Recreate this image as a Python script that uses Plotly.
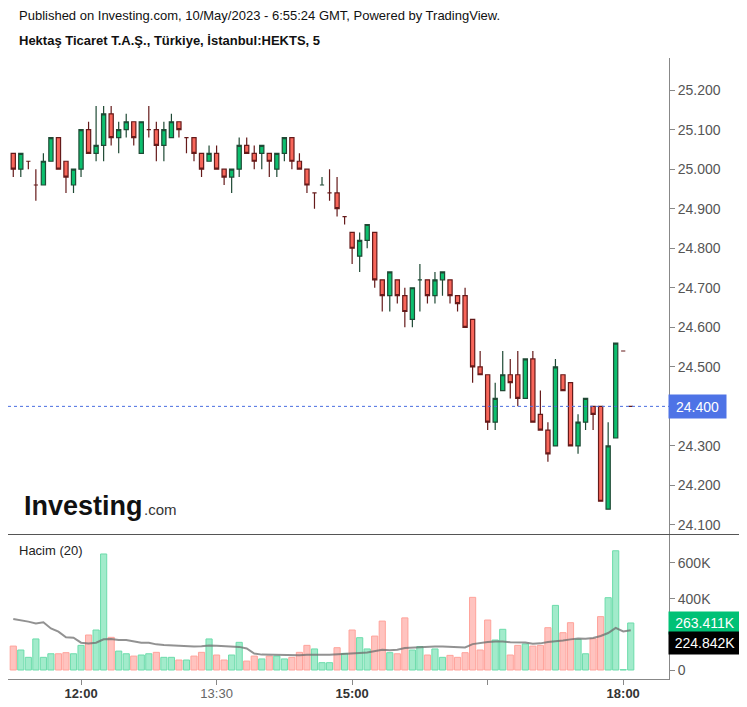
import pandas as pd
import plotly.graph_objects as go

# ---------------- data ----------------
start_time = "2023-05-10 11:15"
n_bars = 83
times = pd.date_range(start_time, periods=n_bars, freq="5min")

open_ = [25.04, 25.00, 25.02, 24.96, 24.96, 25.02, 25.08, 25.02, 24.96, 25.00,
         25.10, 25.04, 25.06, 25.14, 25.08, 25.10, 25.12, 25.04, 25.10, 25.10,
         25.06, 25.08, 25.12, 25.08, 25.08, 25.04, 25.02, 25.04, 25.00, 24.98,
         25.00, 25.06, 25.04, 25.04, 25.04, 25.00, 25.04, 25.08, 25.02, 25.00,
         24.94, 24.96, 24.94, 24.94, 24.88, 24.84, 24.78, 24.82, 24.84, 24.72,
         24.68, 24.72, 24.68, 24.62, 24.72, 24.72, 24.68, 24.72, 24.72, 24.68,
         24.68, 24.62, 24.50, 24.48, 24.36, 24.44, 24.48, 24.48, 24.42, 24.52,
         24.38, 24.34, 24.30, 24.48, 24.46, 24.30, 24.36, 24.40, 24.40, 24.14,
         24.32, 24.54, 24.40]
high = [25.04, 25.04, 25.02, 25.00, 25.04, 25.08, 25.08, 25.02, 25.00, 25.10,
        25.12, 25.16, 25.16, 25.16, 25.12, 25.14, 25.12, 25.12, 25.16, 25.12,
        25.12, 25.14, 25.12, 25.08, 25.08, 25.04, 25.06, 25.06, 25.00, 25.00,
        25.08, 25.08, 25.06, 25.06, 25.04, 25.04, 25.08, 25.08, 25.04, 25.00,
        24.94, 24.98, 25.00, 24.98, 24.88, 24.84, 24.84, 24.86, 24.84, 24.72,
        24.74, 24.72, 24.70, 24.70, 24.76, 24.72, 24.74, 24.74, 24.72, 24.68,
        24.70, 24.62, 24.54, 24.48, 24.46, 24.54, 24.52, 24.54, 24.52, 24.54,
        24.44, 24.36, 24.52, 24.48, 24.46, 24.38, 24.42, 24.40, 24.40, 24.36,
        24.56, 24.54, 24.40]
low = [24.98, 24.98, 25.00, 24.92, 24.96, 25.02, 25.00, 24.94, 24.94, 24.98,
       25.04, 25.02, 25.02, 25.06, 25.04, 25.08, 25.06, 25.04, 25.08, 25.02,
       25.02, 25.08, 25.08, 25.04, 25.02, 24.98, 25.02, 25.00, 24.96, 24.94,
       24.98, 25.04, 25.00, 25.00, 24.98, 24.98, 25.02, 25.00, 25.00, 24.94,
       24.90, 24.96, 24.92, 24.88, 24.86, 24.76, 24.74, 24.80, 24.70, 24.64,
       24.64, 24.66, 24.60, 24.60, 24.64, 24.66, 24.66, 24.68, 24.66, 24.64,
       24.60, 24.46, 24.48, 24.34, 24.34, 24.44, 24.42, 24.40, 24.42, 24.36,
       24.34, 24.26, 24.30, 24.44, 24.30, 24.28, 24.34, 24.34, 24.16, 24.14,
       24.32, 24.54, 24.40]
close = [25.00, 25.04, 25.02, 24.96, 25.02, 25.08, 25.00, 24.98, 25.00, 25.10,
         25.04, 25.06, 25.14, 25.08, 25.10, 25.12, 25.08, 25.12, 25.10, 25.06,
         25.10, 25.12, 25.10, 25.08, 25.04, 25.00, 25.04, 25.00, 24.98, 25.00,
         25.06, 25.04, 25.02, 25.06, 25.02, 25.04, 25.08, 25.02, 25.00, 24.96,
         24.94, 24.96, 24.94, 24.90, 24.88, 24.80, 24.82, 24.86, 24.72, 24.68,
         24.74, 24.68, 24.64, 24.70, 24.72, 24.68, 24.72, 24.74, 24.68, 24.66,
         24.60, 24.50, 24.48, 24.36, 24.42, 24.48, 24.46, 24.42, 24.52, 24.36,
         24.34, 24.28, 24.50, 24.44, 24.30, 24.36, 24.42, 24.38, 24.16, 24.30,
         24.56, 24.54, 24.40]
volume_k = [134, 112, 71, 174, 71, 91, 91, 97, 91, 138,
            196, 224, 650, 183, 106, 91, 78, 84, 91, 99,
            71, 71, 56, 56, 78, 99, 174, 84, 56, 84,
            155, 50, 78, 62, 78, 78, 62, 71, 99, 138,
            118, 41, 41, 125, 93, 224, 181, 118, 190, 274,
            97, 91, 292, 112, 131, 84, 118, 71, 82, 71,
            97, 407, 112, 280, 168, 228, 84, 138, 146, 134,
            138, 237, 362, 209, 265, 172, 91, 175, 299, 405,
            668, 2, 263.411]
# volume MA(20) for the first bars (needs earlier, unseen bars)
ma_head_k = [286, 280, 271, 261, 267, 233, 215, 183, 181, 153,
             149, 153, 172, 174, 168, 168, 159, 153, 153]
ma_period = 20

last_price = 24.40
last_volume = 263411
last_ma = 224842

price_ticks = [24.1, 24.2, 24.3, 24.5, 24.6, 24.7, 24.8, 24.9, 25.0, 25.1, 25.2]
vol_ticks = [0, 400000, 600000]
vol_tick_text = ["0", "400K", "600K"]
time_ticks = ["2023-05-10 12:00", "2023-05-10 13:30", "2023-05-10 15:00",
              "2023-05-10 16:30", "2023-05-10 18:00"]
time_tick_text = ["<b>12:00</b>", "<span style='color:#666'>13:30</span>",
                  "<b>15:00</b>", "", "<b>18:00</b>"]

title1 = "Published on Investing.com, 10/May/2023 - 6:55:24 GMT, Powered by TradingView."
title2 = "Hektaş Ticaret T.A.Ş., Türkiye, İstanbul:HEKTS, 5"

# ---------------- derived ----------------
volume = [v * 1000 for v in volume_k]
vol_series = pd.Series(volume)
ma = vol_series.rolling(ma_period).mean().tolist()
for i, v in enumerate(ma_head_k):
    ma[i] = v * 1000

vol_colors = ["#a2ebcb" if c >= o else "#ffc3bf" for o, c in zip(open_, close)]
vol_lines = ["#6cdcab" if c >= o else "#ffa39b" for o, c in zip(open_, close)]

# ---------------- geometry (screen pixels; page body adds an 8px offset) ----------------
OFF = 8
W, H = 747 - OFF, 707 - OFF
PL, PR, PT, PB = 8, 669, 58, 679          # plot box in screen pixels
ML, MR, MT, MB = PL - OFF, W - (PR - OFF), PT - OFF, H - (PB - OFF)
PW = PR - PL
PH = PB - PT


def px(x):
    return (x - PL) / PW


def py(y):
    return (PB - y) / PH


step = pd.Timedelta(minutes=5)
x0 = times[0] + step * (-0.70)
x1 = times[0] + step * 87.08

FONT = "Liberation Sans, Arial, sans-serif"

fig = go.Figure()
fig.add_trace(go.Candlestick(
    x=times, open=open_, high=high, low=low, close=close,
    increasing=dict(fillcolor="#0cbf6e", line=dict(color="#1f4a35", width=1.2)),
    decreasing=dict(fillcolor="#f8665a", line=dict(color="#651a1a", width=1.2)),
    whiskerwidth=0, xaxis="x", yaxis="y", showlegend=False, hoverinfo="skip",
))
fig.add_trace(go.Bar(
    x=times, y=volume, marker=dict(color=vol_colors, line=dict(color=vol_lines, width=1)),
    xaxis="x", yaxis="y2", showlegend=False, hoverinfo="skip",
))
fig.add_trace(go.Scatter(
    x=times, y=ma, mode="lines", line=dict(color="rgba(110,110,110,0.75)", width=2),
    xaxis="x", yaxis="y2", showlegend=False, hoverinfo="skip",
))

price_top = 25.2 + (90 - PT) / 394
price_bot = 24.1 - (534 - 525) / 394
vol_top = (670 - 535) * 5602
vol_bot = -(PB - 670) * 5602

fig.update_layout(
    width=W, height=H,
    margin=dict(l=ML, r=MR, t=MT, b=MB),
    paper_bgcolor="white", plot_bgcolor="white",
    bargap=0.18, boxgap=0.2,
    font=dict(family=FONT, size=14, color="#555"),
    xaxis=dict(
        type="date", range=[x0, x1], domain=[0, 1], anchor="y2",
        rangeslider=dict(visible=False), showgrid=False, zeroline=False,
        showline=True, linecolor="#888", linewidth=1,
        ticks="outside", ticklen=5, tickcolor="#888",
        tickvals=time_ticks, ticktext=time_tick_text,
        ticklabelstandoff=-3,
        tickfont=dict(family=FONT, size=13, color="#333"),
    ),
    yaxis=dict(
        domain=[py(534), 1], range=[price_bot, price_top], side="right",
        anchor="x", showgrid=False, zeroline=False,
        showline=True, linecolor="#888", linewidth=1,
        ticks="outside", ticklen=5, tickcolor="#888",
        tickvals=price_ticks, tickformat=".3f",
        tickfont=dict(family=FONT, size=14, color="#555"),
    ),
    yaxis2=dict(
        domain=[0, py(535)], range=[vol_bot, vol_top], side="right",
        anchor="x", showgrid=False, zeroline=False,
        showline=True, linecolor="#888", linewidth=1,
        ticks="outside", ticklen=5, tickcolor="#888",
        tickvals=vol_ticks, ticktext=vol_tick_text,
        tickfont=dict(family=FONT, size=14, color="#555"),
    ),
)

shapes = [
    # pane separator
    dict(type="line", xref="paper", yref="paper", x0=px(0), x1=px(740),
         y0=py(534.5), y1=py(534.5), line=dict(color="#555", width=1)),
    # right border
    dict(type="line", xref="paper", yref="paper", x0=px(740), x1=px(740),
         y0=py(58), y1=py(707), line=dict(color="#000", width=1.3)),
    # last price dotted line
    dict(type="line", xref="paper", yref="y", x0=0, x1=1,
         y0=last_price, y1=last_price, line=dict(color="#4a6ee0", width=1, dash="dot")),
]
fig.update_layout(shapes=shapes)

annotations = [
    dict(text=title1, x=px(17), y=py(16), xref="paper", yref="paper",
         xanchor="left", yanchor="middle", showarrow=False,
         font=dict(family=FONT, size=13, color="#111")),
    dict(text="<b>" + title2 + "</b>", x=px(17), y=py(40), xref="paper", yref="paper",
         xanchor="left", yanchor="middle", showarrow=False,
         font=dict(family=FONT, size=13, color="#111")),
    dict(text="Hacim (20)", x=px(17), y=py(550), xref="paper", yref="paper",
         xanchor="left", yanchor="middle", showarrow=False,
         font=dict(family=FONT, size=13, color="#222")),
    dict(text="<b>Investing</b>", x=px(22), y=py(506), xref="paper", yref="paper",
         xanchor="left", yanchor="middle", showarrow=False,
         font=dict(family=FONT, size=27, color="#111")),
    dict(text=".com", x=px(142), y=py(509), xref="paper", yref="paper",
         xanchor="left", yanchor="middle", showarrow=False,
         font=dict(family=FONT, size=15, color="#333")),
    dict(text="24.400", x=1, y=last_price, xref="paper", yref="y",
         xanchor="left", yanchor="middle", showarrow=False, xshift=-1,
         width=55, height=21, bgcolor="#4e73e6", align="center",
         font=dict(family=FONT, size=14, color="white")),
    dict(text="263.411K", x=1, y=last_volume, xref="paper", yref="y2",
         xanchor="left", yanchor="middle", showarrow=False, xshift=-1,
         width=70, height=20, bgcolor="#00c176", align="center",
         font=dict(family=FONT, size=14, color="white")),
    dict(text="224.842K", x=1, y=last_ma, xref="paper", yref="y2",
         xanchor="left", yanchor="middle", showarrow=False, xshift=-1, yshift=-13,
         width=70, height=20, bgcolor="#000000", align="center",
         font=dict(family=FONT, size=14, color="white")),
]
fig.update_layout(annotations=annotations)

fig.write_html("out.html")
